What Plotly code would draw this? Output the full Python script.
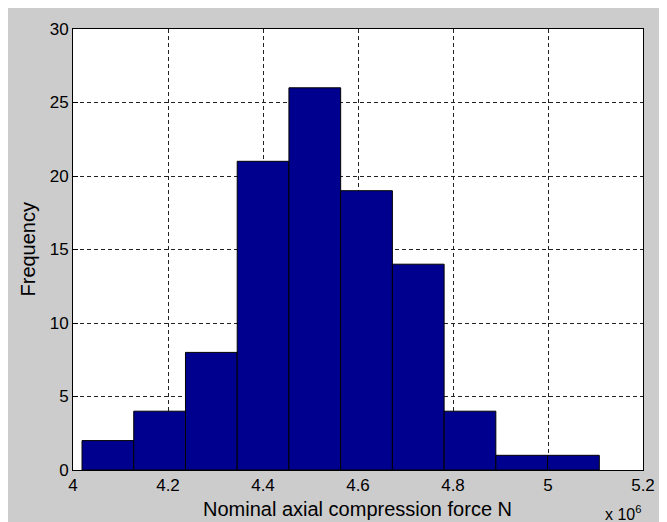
"""
Histogram of the nominal axial compression force
"""
import plotly.graph_objects as go

# counts per bin
counts = [2, 4, 8, 21, 26, 19, 14, 4, 1, 1]
# first bin edge and bin width, in N
bin_start = 4.019e6
bin_width = 0.1089e6

x_ticks = [4.0e6, 4.2e6, 4.4e6, 4.6e6, 4.8e6, 5.0e6, 5.2e6]
x_tick_labels = ["4", "4.2", "4.4", "4.6", "4.8", "5", "5.2"]
y_ticks = [0, 5, 10, 15, 20, 25, 30]

x_title = "Nominal axial compression force N"
y_title = "Frequency"
x_exponent = "x 10<sup>6</sup>"

# the page puts the figure 8px in from the top-left corner of the window
OFF = 8
W, H = 667 - OFF, 522 - OFF
L, R, T, B = 65, 24, 12, 52
PW, PH = W - L - R, H - T - B


def px(x, y):
    """Window pixel position -> paper coordinates"""
    return (x - OFF - L) / PW, (H - B - (y - OFF)) / PH


centers = [bin_start + (i + 0.5) * bin_width for i in range(len(counts))]

fig = go.Figure()

fig.add_trace(go.Bar(
    x=centers,
    y=counts,
    width=bin_width,
    marker_color="#00008F",
    marker_line_color="black",
    marker_line_width=1,
))

font = "Liberation Sans, Arial, sans-serif"

fig.update_layout(
    width=W,
    height=H,
    margin=dict(l=L, r=R, t=T, b=B),
    paper_bgcolor="#cccccc",
    plot_bgcolor="white",
    showlegend=False,
    font=dict(family=font, size=17, color="black"),
)

axis_style = dict(
    showline=True,
    linecolor="black",
    linewidth=1,
    mirror=True,
    ticks="inside",
    ticklen=5,
    tickcolor="black",
    showgrid=True,
    gridcolor="#222222",
    gridwidth=1,
    griddash="4px,3px",
    zeroline=False,
    layer="below traces",
)

fig.update_xaxes(
    range=[x_ticks[0], x_ticks[-1]],
    tickvals=x_ticks,
    ticktext=x_tick_labels,
    **axis_style,
)
fig.update_yaxes(
    range=[y_ticks[0], y_ticks[-1]],
    tickvals=y_ticks,
    **axis_style,
)

# axis titles
ax, ay = px(357, 510)
fig.add_annotation(x=ax, y=ay, xref="paper", yref="paper", text=x_title,
                   showarrow=False, font=dict(size=20), xanchor="center", yanchor="middle")
ax, ay = px(27, 245)
fig.add_annotation(x=ax, y=ay, xref="paper", yref="paper", text=y_title,
                   showarrow=False, font=dict(size=20), textangle=-90,
                   xanchor="center", yanchor="middle")
ax, ay = px(603, 514)
fig.add_annotation(x=ax, y=ay, xref="paper", yref="paper", text=x_exponent,
                   showarrow=False, font=dict(size=16), xanchor="left", yanchor="middle")

fig.write_html("out.html")
